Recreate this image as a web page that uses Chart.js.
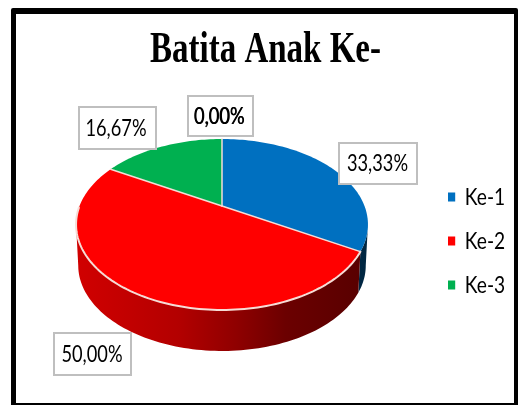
<!DOCTYPE html>
<html>
<head>
<meta charset="utf-8">
<style>
html,body{margin:0;padding:0;background:#fff;width:518px;height:405px;overflow:hidden}
#frame{position:absolute;left:11px;top:8px;right:0;bottom:0;border-style:solid;border-color:#000;border-width:6px 4px 2px 5px;border-radius:2px 2px 0 0;box-sizing:border-box}
#wrap{position:absolute;left:0;top:0;width:518px;height:405px}
</style>
<script src="https://cdn.jsdelivr.net/npm/chart.js@4"></script>
</head>
<body>
<div id="frame"></div>
<div id="wrap"><canvas id="c" width="518" height="405"></canvas></div>
<script>
const chartTitle = 'Batita Anak Ke-';
const categories = ['Ke-1', 'Ke-2', 'Ke-3', ''];
const shares = [33.33, 50.00, 16.67, 0.00];
const sliceColors = ['#0070c0', '#ff0000', '#00b050', '#7f7f7f'];

// layout of the page, kept apart from the data
const pie = {left: 76, right: 368, top: 60, bottom: 352};
const persp = {kx: 0.976, ky: 0.558, c: -0.2164, depth: 41, baseScale: 0.985};
const labelBoxes = [
  {x: 339, y: 143, w: 78, h: 41, dx: -0.5},
  {x: 54,  y: 333, w: 77, h: 42, dx: -0.5},
  {x: 79,  y: 107, w: 77, h: 42, dx: -1.5},
  {x: 188, y: 96,  w: 65, h: 40, dx: -1.5, bold: true}
];
const legendPlace = {x: 448, firstY: 197, sx: 0.8, padding: 20};
const titlePlace = {cx: 265.5, top: 24, sx: 0.75};
const wallStops = [[0, 0.82], [0.35, 0.70], [0.55, 0.56], [0.72, 0.42], [1, 0.34]];

function project(el, a, dy = 0, s = 1) {
  const R = el.outerRadius, u = Math.cos(a), v = Math.sin(a), d = 1 + persp.c * v;
  return [el.x + s * R * persp.kx * u / d, el.y + dy + R * persp.ky * v / d];
}
function rim(ctx, el, a0, a1, dy, s) {
  const n = Math.max(2, Math.ceil(Math.abs(a1 - a0) * 40));
  const pts = [];
  for (let i = 0; i <= n; i++) pts.push(project(el, a0 + (a1 - a0) * i / n, dy, s));
  return pts;
}
function drawProjectedArc(ctx) {
  if (this.endAngle - this.startAngle < 1e-4) return;
  const pts = rim(ctx, this, this.startAngle, this.endAngle, 0, 1);
  ctx.save();
  ctx.beginPath();
  ctx.moveTo(this.x, this.y);
  pts.forEach(p => ctx.lineTo(p[0], p[1]));
  ctx.closePath();
  ctx.fillStyle = this.options.backgroundColor;
  ctx.fill();
  ctx.restore();
}
function strokeEdges(chart) {
  const ctx = chart.ctx;
  const arcs = chart.getDatasetMeta(0).data;
  ctx.save();
  ctx.strokeStyle = '#f6dcd6';
  ctx.lineJoin = 'round';
  ctx.lineCap = 'round';
  ctx.lineWidth = 1.5;
  arcs.forEach(el => {
    if (el.endAngle - el.startAngle < 1e-4) return;
    const p = project(el, el.startAngle);
    ctx.beginPath(); ctx.moveTo(el.x, el.y); ctx.lineTo(p[0], p[1]); ctx.stroke();
  });
  const el = arcs[1];
  ctx.lineWidth = 2;
  ctx.beginPath();
  rim(ctx, el, el.startAngle, Math.PI - 0.02, 0, 1).forEach((p, i) => i ? ctx.lineTo(p[0], p[1]) : ctx.moveTo(p[0], p[1]));
  ctx.stroke();
  ctx.restore();
}
function shade(hex, f) {
  const n = parseInt(hex.slice(1), 16);
  return `rgb(${Math.round((n >> 16 & 255) * f)},${Math.round((n >> 8 & 255) * f)},${Math.round((n & 255) * f)})`;
}
const squeeze = (el, sx, px, ctx) => {
  const orig = el.draw;
  el.draw = function (...a) {
    ctx.save();
    ctx.translate(px, 0); ctx.scale(sx, 1); ctx.translate(-px, 0);
    orig.apply(this, a);
    ctx.restore();
  };
};

const piePlugin = {
  id: 'projectedPie',
  afterLayout(chart) {
    Object.assign(chart.chartArea, pie, {width: pie.right - pie.left, height: pie.bottom - pie.top});
    const lg = chart.legend, w = lg.width, h = lg.height;
    const colH = lg.columnSizes[0].height;
    lg.left = legendPlace.x - legendPlace.padding;
    lg.right = lg.left + w;
    lg.top = legendPlace.firstY - 12 - (h + legendPlace.padding - colH) / 2;
    lg.bottom = lg.top + h;
    lg.adjustHitBoxes();
    const tb = chart.titleBlock;
    tb.top = titlePlace.top; tb.bottom = tb.top + tb.height;
    tb.left = titlePlace.cx - tb.width / 2; tb.right = tb.left + tb.width;
    if (!lg._sq) { lg._sq = true; squeeze(lg, legendPlace.sx, legendPlace.x, chart.ctx); squeeze(tb, titlePlace.sx, titlePlace.cx, chart.ctx); }
  },
  afterDatasetsUpdate(chart) {
    chart.getDatasetMeta(0).data.forEach(el => { el.draw = drawProjectedArc; });
  },
  beforeDatasetsDraw(chart) {
    const ctx = chart.ctx;
    const lo = Math.asin(-persp.c), hi = Math.PI - lo;
    chart.getDatasetMeta(0).data.forEach((el, i) => {
      const a0 = Math.max(el.startAngle, lo), a1 = Math.min(el.endAngle, hi);
      if (a1 - a0 < 1e-4) return;
      const g = ctx.createLinearGradient(pie.left, 0, pie.right, 0);
      wallStops.forEach(s => g.addColorStop(s[0], shade(sliceColors[i], s[1])));
      const top = rim(ctx, el, a0, a1, 0, 1);
      const base = rim(ctx, el, a1, a0, persp.depth, persp.baseScale);
      ctx.beginPath();
      top.concat(base).forEach((p, k) => k ? ctx.lineTo(p[0], p[1]) : ctx.moveTo(p[0], p[1]));
      ctx.closePath();
      ctx.fillStyle = g;
      ctx.fill();
    });
  },
  afterDatasetsDraw(chart) {
    strokeEdges(chart);
  },
  afterDraw(chart) {
    const ctx = chart.ctx;
    ctx.save();
    shares.forEach((v, i) => {
      const b = labelBoxes[i];
      ctx.fillStyle = '#fff';
      ctx.fillRect(b.x, b.y, b.w, b.h);
      ctx.strokeStyle = '#bfbfbf';
      ctx.lineWidth = 2;
      ctx.strokeRect(b.x, b.y, b.w, b.h);
      const cx = b.x + b.w / 2 + b.dx, cy = b.y + b.h / 2;
      ctx.save();
      ctx.translate(cx, cy); ctx.scale(0.76, 1);
      ctx.font = '24px Lato';
      ctx.textAlign = 'center'; ctx.textBaseline = 'middle';
      ctx.fillStyle = '#000';
      const txt = v.toFixed(2).replace('.', ',') + '%';
      ctx.fillText(txt, 0, 0);
      if (b.bold) { ctx.fillText(txt, 0.8, 0); }
      ctx.restore();
    });
    ctx.restore();
  }
};

new Chart(document.getElementById('c'), {
  type: 'pie',
  data: {
    labels: categories,
    datasets: [{data: shares, backgroundColor: sliceColors, borderWidth: 0}]
  },
  plugins: [piePlugin],
  options: {
    responsive: false,
    animation: false,
    layout: {padding: 0},
    events: [],
    plugins: {
      tooltip: {enabled: false},
      title: {
        display: true,
        text: chartTitle,
        color: '#000',
        font: {family: '"Liberation Serif"', size: 44, weight: 'bold'},
        padding: 0
      },
      legend: {
        position: 'right',
        labels: {
          color: '#000',
          font: {family: 'Lato', size: 24},
          boxWidth: 9,
          boxHeight: 9,
          padding: legendPlace.padding,
          filter: item => item.text !== ''
        }
      }
    }
  }
});
</script>
</body>
</html>
